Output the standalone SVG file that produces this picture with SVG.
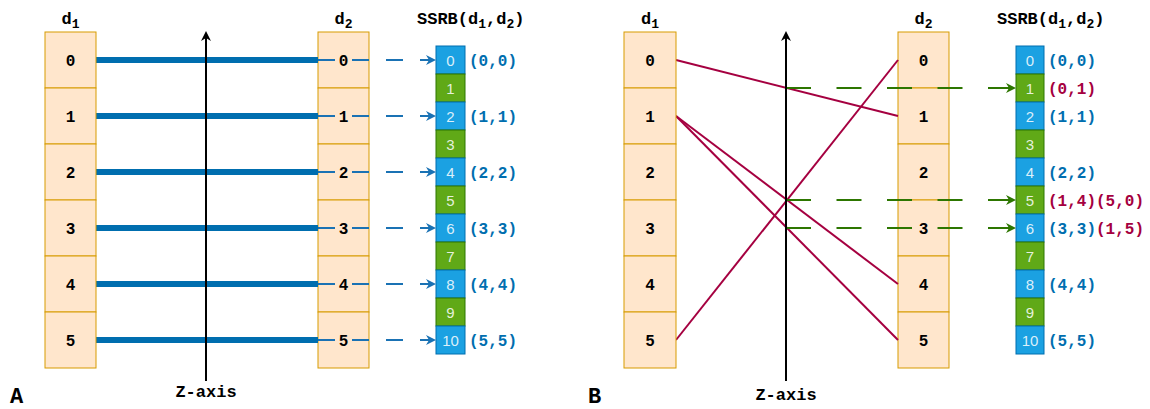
<svg xmlns="http://www.w3.org/2000/svg" width="1150" height="409" viewBox="0 0 1150 409">
<style>
.dc{fill:#ffe6cc;stroke:#d79b00;stroke-width:1}
.bl{fill:#1ba1e2;stroke:#006eaf;stroke-width:1}
.gr{fill:#60a917;stroke:#2d7600;stroke-width:1}
.num{font-family:"Liberation Mono",monospace;font-size:16px;font-weight:bold;text-anchor:middle;fill:#000}
.sn{font-family:"Liberation Sans",sans-serif;font-size:15px;fill:#ffffff;fill-opacity:.85;text-anchor:middle}
.lab{font-family:"Liberation Mono",monospace;font-size:16px;font-weight:bold}
.hd{font-family:"Liberation Mono",monospace;font-size:17px;font-weight:bold;fill:#000}
.big{font-family:"Liberation Mono",monospace;font-size:22px;font-weight:bold;fill:#000}
.b{fill:#006eaf}
.r{fill:#a50040}
.thick{stroke:#006eaf;stroke-width:6;fill:none}
.bdash{stroke:#1a72b4;stroke-width:2;fill:none;stroke-dasharray:17 17}
.gdash{stroke:#2d7600;stroke-width:2;fill:none;stroke-dasharray:25 25.5}
.red{stroke:#a50040;stroke-width:2;fill:none}
.axis{stroke:#000;stroke-width:2;fill:none}
</style>
<defs>
<marker id="ab" markerUnits="userSpaceOnUse" markerWidth="12" markerHeight="12" refX="6" refY="5" orient="auto"><path d="M0,0 L10,5 L0,10 L3,5 Z" fill="#1a72b4"/></marker>
<marker id="ag" markerUnits="userSpaceOnUse" markerWidth="12" markerHeight="12" refX="6" refY="5" orient="auto"><path d="M0,0 L10,5 L0,10 L3,5 Z" fill="#2d7600"/></marker>
<marker id="ak" markerUnits="userSpaceOnUse" markerWidth="12" markerHeight="12" refX="6" refY="5" orient="auto"><path d="M0,0 L10,5 L0,10 L3,5 Z" fill="#000"/></marker>
</defs>

<!-- Panel A headers -->
<text class="hd" x="70.5" y="24" text-anchor="middle">d<tspan font-size="13" dy="4">1</tspan></text>
<text class="hd" x="343.5" y="24" text-anchor="middle">d<tspan font-size="13" dy="4">2</tspan></text>
<text class="hd" x="417" y="24">SSRB(d<tspan font-size="13" dy="4">1</tspan><tspan dy="-4">,d</tspan><tspan font-size="13" dy="4">2</tspan><tspan dy="-4">)</tspan></text>

<!-- Panel B headers -->
<text class="hd" x="650" y="24" text-anchor="middle">d<tspan font-size="13" dy="4">1</tspan></text>
<text class="hd" x="923.5" y="24" text-anchor="middle">d<tspan font-size="13" dy="4">2</tspan></text>
<text class="hd" x="997" y="24">SSRB(d<tspan font-size="13" dy="4">1</tspan><tspan dy="-4">,d</tspan><tspan font-size="13" dy="4">2</tspan><tspan dy="-4">)</tspan></text>

<!-- Panel A d2 -->
<g id="A-d2-0"><rect class="dc" x="318" y="32" width="51" height="56"/><text class="num" x="343.5" y="66">0</text></g>
<g id="A-d2-1"><rect class="dc" x="318" y="88" width="51" height="56"/><text class="num" x="343.5" y="122">1</text></g>
<g id="A-d2-2"><rect class="dc" x="318" y="144" width="51" height="56"/><text class="num" x="343.5" y="178">2</text></g>
<g id="A-d2-3"><rect class="dc" x="318" y="200" width="51" height="56"/><text class="num" x="343.5" y="234">3</text></g>
<g id="A-d2-4"><rect class="dc" x="318" y="256" width="51" height="56"/><text class="num" x="343.5" y="290">4</text></g>
<g id="A-d2-5"><rect class="dc" x="318" y="312" width="51" height="56"/><text class="num" x="343.5" y="346">5</text></g>

<!-- Panel B d2 -->
<g id="B-d2-0"><rect class="dc" x="898" y="32" width="51" height="56"/><text class="num" x="923.5" y="66">0</text></g>
<g id="B-d2-1"><rect class="dc" x="898" y="88" width="51" height="56"/><text class="num" x="923.5" y="122">1</text></g>
<g id="B-d2-2"><rect class="dc" x="898" y="144" width="51" height="56"/><text class="num" x="923.5" y="178">2</text></g>
<g id="B-d2-3"><rect class="dc" x="898" y="200" width="51" height="56"/><text class="num" x="923.5" y="234">3</text></g>
<g id="B-d2-4"><rect class="dc" x="898" y="256" width="51" height="56"/><text class="num" x="923.5" y="290">4</text></g>
<g id="B-d2-5"><rect class="dc" x="898" y="312" width="51" height="56"/><text class="num" x="923.5" y="346">5</text></g>

<!-- Connectors -->
<g id="connectors">
  <line class="thick" x1="96" y1="60" x2="318" y2="60"/>
  <line class="thick" x1="96" y1="116" x2="318" y2="116"/>
  <line class="thick" x1="96" y1="172" x2="318" y2="172"/>
  <line class="thick" x1="96" y1="228" x2="318" y2="228"/>
  <line class="thick" x1="96" y1="284" x2="318" y2="284"/>
  <line class="thick" x1="96" y1="340" x2="318" y2="340"/>
  <line class="bdash" x1="318" y1="60" x2="432" y2="60" marker-end="url(#ab)"/>
  <line class="bdash" x1="318" y1="116" x2="432" y2="116" marker-end="url(#ab)"/>
  <line class="bdash" x1="318" y1="172" x2="432" y2="172" marker-end="url(#ab)"/>
  <line class="bdash" x1="318" y1="228" x2="432" y2="228" marker-end="url(#ab)"/>
  <line class="bdash" x1="318" y1="284" x2="432" y2="284" marker-end="url(#ab)"/>
  <line class="bdash" x1="318" y1="340" x2="432" y2="340" marker-end="url(#ab)"/>
  <line class="axis" x1="206" y1="381" x2="206" y2="35" marker-end="url(#ak)"/>

  <line class="red" x1="676" y1="60" x2="898" y2="116"/>
  <line class="red" x1="676" y1="116" x2="898" y2="284"/>
  <line class="red" x1="676" y1="116" x2="898" y2="340"/>
  <line class="red" x1="676" y1="340" x2="898" y2="60"/>
  <line class="gdash" x1="786" y1="88" x2="1012" y2="88" marker-end="url(#ag)"/>
  <line class="gdash" x1="786" y1="200" x2="1012" y2="200" marker-end="url(#ag)"/>
  <line class="gdash" x1="786" y1="228" x2="1012" y2="228" marker-end="url(#ag)"/>
  <line class="axis" x1="786" y1="381" x2="786" y2="35" marker-end="url(#ak)"/>
</g>

<!-- Panel A d1 -->
<g id="A-d1-0"><rect class="dc" x="45" y="32" width="51" height="56"/><text class="num" x="70.5" y="66">0</text></g>
<g id="A-d1-1"><rect class="dc" x="45" y="88" width="51" height="56"/><text class="num" x="70.5" y="122">1</text></g>
<g id="A-d1-2"><rect class="dc" x="45" y="144" width="51" height="56"/><text class="num" x="70.5" y="178">2</text></g>
<g id="A-d1-3"><rect class="dc" x="45" y="200" width="51" height="56"/><text class="num" x="70.5" y="234">3</text></g>
<g id="A-d1-4"><rect class="dc" x="45" y="256" width="51" height="56"/><text class="num" x="70.5" y="290">4</text></g>
<g id="A-d1-5"><rect class="dc" x="45" y="312" width="51" height="56"/><text class="num" x="70.5" y="346">5</text></g>

<!-- Panel A SSRB -->
<g id="A-s-0"><rect class="bl" x="436" y="46" width="29" height="28"/><text class="sn" x="450.5" y="65.5">0</text></g>
<g id="A-s-1"><rect class="gr" x="436" y="74" width="29" height="28"/><text class="sn" x="450.5" y="93.5">1</text></g>
<g id="A-s-2"><rect class="bl" x="436" y="102" width="29" height="28"/><text class="sn" x="450.5" y="121.5">2</text></g>
<g id="A-s-3"><rect class="gr" x="436" y="130" width="29" height="28"/><text class="sn" x="450.5" y="149.5">3</text></g>
<g id="A-s-4"><rect class="bl" x="436" y="158" width="29" height="28"/><text class="sn" x="450.5" y="177.5">4</text></g>
<g id="A-s-5"><rect class="gr" x="436" y="186" width="29" height="28"/><text class="sn" x="450.5" y="205.5">5</text></g>
<g id="A-s-6"><rect class="bl" x="436" y="214" width="29" height="28"/><text class="sn" x="450.5" y="233.5">6</text></g>
<g id="A-s-7"><rect class="gr" x="436" y="242" width="29" height="28"/><text class="sn" x="450.5" y="261.5">7</text></g>
<g id="A-s-8"><rect class="bl" x="436" y="270" width="29" height="28"/><text class="sn" x="450.5" y="289.5">8</text></g>
<g id="A-s-9"><rect class="gr" x="436" y="298" width="29" height="28"/><text class="sn" x="450.5" y="317.5">9</text></g>
<g id="A-s-10"><rect class="bl" x="436" y="326" width="29" height="28"/><text class="sn" x="450.5" y="345.5">10</text></g>

<g id="A-labels">
<text class="lab b" x="469" y="66">(0,0)</text>
<text class="lab b" x="469" y="122">(1,1)</text>
<text class="lab b" x="469" y="178">(2,2)</text>
<text class="lab b" x="469" y="234">(3,3)</text>
<text class="lab b" x="469" y="290">(4,4)</text>
<text class="lab b" x="469" y="346">(5,5)</text>
</g>

<!-- Panel B d1 -->
<g id="B-d1-0"><rect class="dc" x="624" y="32" width="52" height="56"/><text class="num" x="650" y="66">0</text></g>
<g id="B-d1-1"><rect class="dc" x="624" y="88" width="52" height="56"/><text class="num" x="650" y="122">1</text></g>
<g id="B-d1-2"><rect class="dc" x="624" y="144" width="52" height="56"/><text class="num" x="650" y="178">2</text></g>
<g id="B-d1-3"><rect class="dc" x="624" y="200" width="52" height="56"/><text class="num" x="650" y="234">3</text></g>
<g id="B-d1-4"><rect class="dc" x="624" y="256" width="52" height="56"/><text class="num" x="650" y="290">4</text></g>
<g id="B-d1-5"><rect class="dc" x="624" y="312" width="52" height="56"/><text class="num" x="650" y="346">5</text></g>

<!-- Panel B SSRB -->
<g id="B-s-0"><rect class="bl" x="1016" y="46" width="28" height="28"/><text class="sn" x="1030" y="65.5">0</text></g>
<g id="B-s-1"><rect class="gr" x="1016" y="74" width="28" height="28"/><text class="sn" x="1030" y="93.5">1</text></g>
<g id="B-s-2"><rect class="bl" x="1016" y="102" width="28" height="28"/><text class="sn" x="1030" y="121.5">2</text></g>
<g id="B-s-3"><rect class="gr" x="1016" y="130" width="28" height="28"/><text class="sn" x="1030" y="149.5">3</text></g>
<g id="B-s-4"><rect class="bl" x="1016" y="158" width="28" height="28"/><text class="sn" x="1030" y="177.5">4</text></g>
<g id="B-s-5"><rect class="gr" x="1016" y="186" width="28" height="28"/><text class="sn" x="1030" y="205.5">5</text></g>
<g id="B-s-6"><rect class="bl" x="1016" y="214" width="28" height="28"/><text class="sn" x="1030" y="233.5">6</text></g>
<g id="B-s-7"><rect class="gr" x="1016" y="242" width="28" height="28"/><text class="sn" x="1030" y="261.5">7</text></g>
<g id="B-s-8"><rect class="bl" x="1016" y="270" width="28" height="28"/><text class="sn" x="1030" y="289.5">8</text></g>
<g id="B-s-9"><rect class="gr" x="1016" y="298" width="28" height="28"/><text class="sn" x="1030" y="317.5">9</text></g>
<g id="B-s-10"><rect class="bl" x="1016" y="326" width="28" height="28"/><text class="sn" x="1030" y="345.5">10</text></g>

<g id="B-labels">
<text class="lab b" x="1048" y="66">(0,0)</text>
<text class="lab r" x="1048" y="94">(0,1)</text>
<text class="lab b" x="1048" y="122">(1,1)</text>
<text class="lab b" x="1048" y="178">(2,2)</text>
<text class="lab r" x="1048" y="206">(1,4)(5,0)</text>
<text class="lab" x="1048" y="234"><tspan class="b">(3,3)</tspan><tspan class="r">(1,5)</tspan></text>
<text class="lab b" x="1048" y="290">(4,4)</text>
<text class="lab b" x="1048" y="346">(5,5)</text>
</g>

<!-- Axis labels and panel letters -->
<text class="hd" x="206" y="397" text-anchor="middle">Z-axis</text>
<text class="hd" x="786" y="400" text-anchor="middle">Z-axis</text>
<text class="big" x="10" y="403">A</text>
<text class="big" x="588" y="403">B</text>
</svg>
